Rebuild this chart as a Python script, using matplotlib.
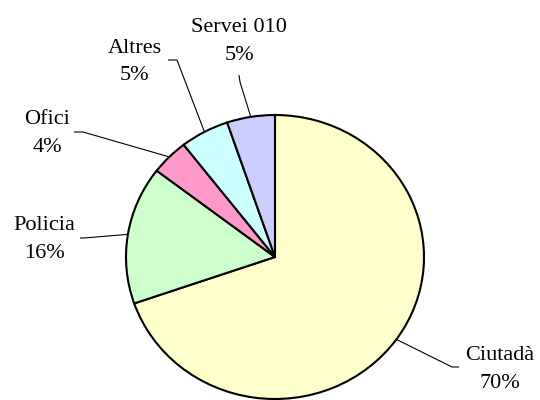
import numpy as np
import matplotlib
matplotlib.use("Agg")
import matplotlib.pyplot as plt

# ---- data ----
categories = ["Ciutadà", "Policia", "Ofici", "Altres", "Servei 010"]
values = [69.7, 15.7, 4.1, 5.3, 5.2]
pct_labels = ["70%", "16%", "4%", "5%", "5%"]
colors = ["#FFFFCC", "#CCFFCC", "#FF99CC", "#CCFFFF", "#CCCCFF"]

# ---- layout (pixel geometry of the pie) ----
W, H = 540, 400
CX, CY, RX, RY = 275, 257, 149, 142

def px(x, y):
    """pixel (top-left origin) -> data coords of unit pie"""
    return ((x - CX) / RX, (CY - y) / RY)

# label line centres (name line, percent line) and leader-line elbows in pixels
name_pos = [(500, 353), (44, 223), (47, 117), (135, 46), (239, 25)]
pct_pos = [(500, 381), (44, 251), (47, 145), (135, 73), (240, 53)]
leader_pts = [
    [(459, 367), (452, 367)],
    [(80, 238), (84, 238)],
    [(74, 132), (83, 132)],
    [(168, 60), (177, 60)],
    [(239, 75), (240, 82)],
]

plt.rcParams["font.family"] = ["Liberation Serif", "DejaVu Serif"]

fig = plt.figure(figsize=(W / 100, H / 100), dpi=100)
ax = fig.add_axes([0, 0, 1, 1])

wedges, _ = ax.pie(values, colors=colors, startangle=90, counterclock=False,
                   radius=1.0, center=(0, 0),
                   wedgeprops=dict(edgecolor="black", linewidth=1.5))

ax.set_aspect("auto")
ax.set_xlim((0 - CX) / RX, (W - CX) / RX)
ax.set_ylim((CY - H) / RY, CY / RY)
ax.axis("off")

for w, cat, pct, npos, ppos, pts in zip(wedges, categories, pct_labels,
                                         name_pos, pct_pos, leader_pts):
    mid = np.deg2rad((w.theta1 + w.theta2) / 2)
    ex, ey = np.cos(mid), np.sin(mid)
    xs = [px(*p)[0] for p in pts] + [ex]
    ys = [px(*p)[1] for p in pts] + [ey]
    ax.plot(xs, ys, color="black", linewidth=0.8, solid_capstyle="butt", zorder=0.5)
    ax.text(*px(*npos), cat, ha="center", va="center_baseline", fontsize=16, color="black")
    ax.text(*px(*ppos), pct, ha="center", va="center_baseline", fontsize=16, color="black")

fig.savefig("out.png", dpi=100)
